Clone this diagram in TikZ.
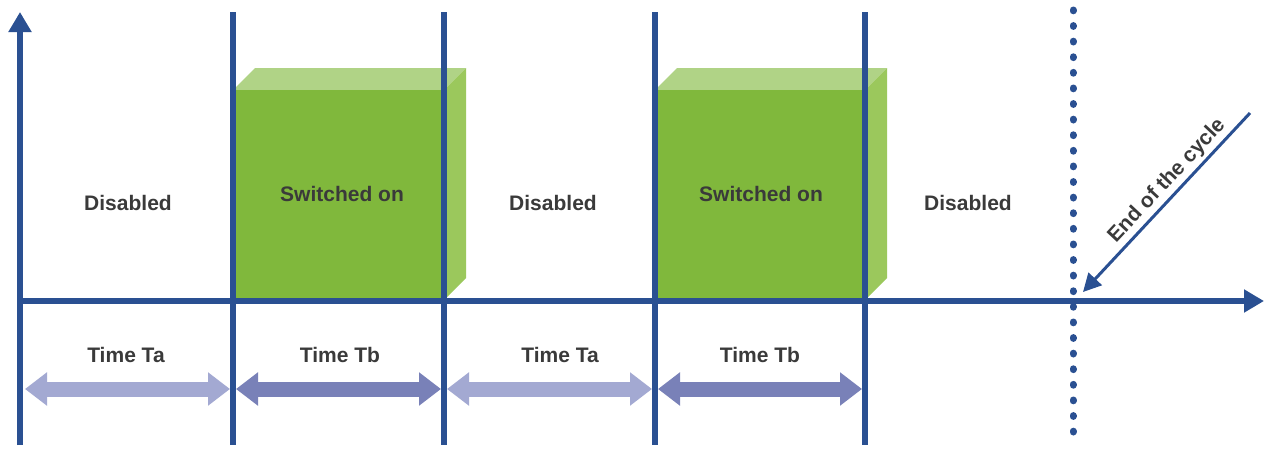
\documentclass[tikz,border=0pt]{standalone}
\usepackage{fontspec}
\setmainfont{Liberation Sans}
\usetikzlibrary{arrows.meta}
\definecolor{axisblue}{RGB}{42,80,146}
\definecolor{frontgreen}{RGB}{128,184,60}
\definecolor{topgreen}{RGB}{176,211,134}
\definecolor{sidegreen}{RGB}{155,200,92}
\definecolor{labelgrey}{RGB}{58,58,58}
\definecolor{spanlight}{RGB}{163,169,210}
\definecolor{spandark}{RGB}{121,129,184}
\tikzset{
  axisline/.style={draw=axisblue, line width=6pt},
  axisarrow/.style={axisline, -{Triangle[width=22pt,length=20pt]}},
  phaselabel/.style={text=labelgrey, font=\fontsize{21}{24}\selectfont\bfseries, inner sep=0pt},
  spanarrow/.style={line width=15pt, {Triangle[width=32pt,length=22pt]}-{Triangle[width=32pt,length=22pt]}},
  dots/.style={draw=axisblue, line width=7pt, line cap=round, dash pattern=on 0.8pt off 14.8pt},
  pointer/.style={draw=axisblue, line width=3pt, -{Triangle[width=18pt,length=18pt]}},
}
\begin{document}
\begin{tikzpicture}[x=1pt,y=-1pt]
\useasboundingbox (0,0) rectangle (1266,450);
\fill[white] (0,0) rectangle (1266,450);

% switched-on blocks drawn as 3D boxes
\foreach \xa/\xb in {233/444, 655/865}{
  \fill[topgreen] (\xa,90) -- (\xa+22,68) -- (\xb+22,68) -- (\xb,90) -- cycle;
  \fill[sidegreen] (\xb,90) -- (\xb+22,68) -- (\xb+22,278) -- (\xb,300) -- cycle;
  \fill[frontgreen] (\xa,90) rectangle (\xb,300);
}

% coordinates of the axes and phase boundaries
\coordinate (origin) at (20,301);
\coordinate (ytop) at (20,12);
\coordinate (ybot) at (20,445);
\coordinate (xend) at (1264,301);
\foreach \n/\x in {b1/233, b2/444, b3/655, b4/865}{
  \coordinate (\n top) at (\x,12);
  \coordinate (\n bot) at (\x,445);
  \coordinate (\n span) at (\x,389);
}
\coordinate (b0span) at (20,389);
\coordinate (endtop) at (1073,10);
\coordinate (endbot) at (1073,446);
\coordinate (endmark) at (1083,292);
\coordinate (pointerstart) at (1250,113);

% phase boundaries
\foreach \n in {b1,b2,b3,b4}{
  \draw[axisline] (\n top) -- (\n bot);
}
% end of the cycle marker
\draw[dots] (endtop) -- (endbot);

% axes
\draw[axisarrow] (ybot) -- (ytop);
\draw[axisarrow] (17,301) -- (xend);

% durations
\draw[spanarrow, spanlight] ([xshift=5pt]b0span) -- ([xshift=-3pt]b1span);
\draw[spanarrow, spandark] ([xshift=3pt]b1span) -- ([xshift=-3pt]b2span);
\draw[spanarrow, spanlight] ([xshift=3pt]b2span) -- ([xshift=-3pt]b3span);
\draw[spanarrow, spandark] ([xshift=3pt]b3span) -- ([xshift=-3pt]b4span);

% phase labels
\node[phaselabel] (d1) at (128,203) {Disabled};
\node[phaselabel] (s1) at (342,194) {Switched on};
\node[phaselabel] (d2) at (553,203) {Disabled};
\node[phaselabel] (s2) at (761,194) {Switched on};
\node[phaselabel] (d3) at (968,203) {Disabled};

\node[phaselabel] (ta1) at (126,355) {Time Ta};
\node[phaselabel] (tb1) at (340,355) {Time Tb};
\node[phaselabel] (ta2) at (560,355) {Time Ta};
\node[phaselabel] (tb2) at (760,355) {Time Tb};

% pointer to the end of the cycle
\draw[pointer] (pointerstart) -- (endmark);
\node[phaselabel, rotate=47] (endlabel) at (1167,181) {End of the cycle};
\end{tikzpicture}
\end{document}
